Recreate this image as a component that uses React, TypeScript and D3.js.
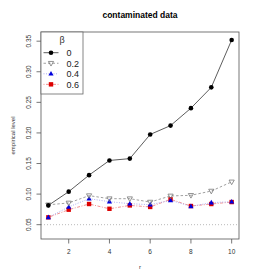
import React, { useEffect, useRef } from 'react';
import * as d3 from 'd3';

const rValues = [1, 2, 3, 4, 5, 6, 7, 8, 9, 10];
const beta0 = [0.0815, 0.104, 0.131, 0.155, 0.158, 0.1975, 0.212, 0.2405, 0.2745, 0.352];
const beta02 = [0.0825, 0.0855, 0.0975, 0.0925, 0.0925, 0.087, 0.097, 0.098, 0.105, 0.12];
const beta04 = [0.062, 0.079, 0.0925, 0.0876, 0.0843, 0.0827, 0.0898, 0.080, 0.086, 0.0876];
const beta06 = [0.062, 0.0745, 0.0838, 0.076, 0.0815, 0.079, 0.0915, 0.0805, 0.0838, 0.087];
const legendLabels = ['0', '0.2', '0.4', '0.6'];
const yTicks = [0.05, 0.10, 0.15, 0.20, 0.25, 0.30, 0.35];
const xTicks = [2, 4, 6, 8, 10];
const nominalLevel = 0.05;

const App: React.FC = () => {
  const ref = useRef<SVGSVGElement | null>(null);

  useEffect(() => {
    if (!ref.current) return;
    const svg = d3.select(ref.current);
    svg.selectAll('*').remove();

    const font = '"Liberation Sans", Arial, sans-serif';
    const left = 41, right = 239, top = 32, bottom = 239;

    const x = d3.scaleLinear().domain([0.64, 10.36]).range([left, right]);
    const y = d3.scaleLinear().domain([0.0266, 0.365]).range([bottom, top]);

    // title
    svg.append('text')
      .attr('x', 140).attr('y', 18)
      .attr('text-anchor', 'middle')
      .style('font-family', font).style('font-size', '8.5px').style('font-weight', 'bold')
      .text('contaminated data');

    // reference line
    svg.append('line')
      .attr('x1', left).attr('x2', right)
      .attr('y1', y(nominalLevel)).attr('y2', y(nominalLevel))
      .attr('stroke', '#aaa').attr('stroke-width', 0.8).attr('stroke-dasharray', '1,2');

    const series = [
      { vals: beta0, color: '#000', lineColor: '#333', dash: 'none', shape: 'circle' },
      { vals: beta02, color: '#777', lineColor: '#888', dash: '2.5,2', shape: 'tridown' },
      { vals: beta04, color: '#0000dd', lineColor: '#9999ee', dash: '1,1.5', shape: 'triup' },
      { vals: beta06, color: '#dd0000', lineColor: '#ee7777', dash: '1,1.5,3,1.5', shape: 'square' },
    ];

    const drawSymbol = (g: d3.Selection<SVGGElement, unknown, null, undefined>, shape: string, cx: number, cy: number, color: string) => {
      if (shape === 'circle') {
        g.append('circle').attr('cx', cx).attr('cy', cy).attr('r', 2.3).attr('fill', color);
      } else if (shape === 'square') {
        g.append('rect').attr('x', cx - 2.2).attr('y', cy - 2.2).attr('width', 4.4).attr('height', 4.4).attr('fill', color);
      } else if (shape === 'triup') {
        g.append('path').attr('d', `M${cx},${cy - 2.8}L${cx + 2.6},${cy + 1.8}L${cx - 2.6},${cy + 1.8}Z`).attr('fill', color);
      } else {
        g.append('path').attr('d', `M${cx},${cy + 2.8}L${cx + 2.6},${cy - 1.8}L${cx - 2.6},${cy - 1.8}Z`)
          .attr('fill', 'none').attr('stroke', color).attr('stroke-width', 0.8);
      }
    };

    const line = d3.line<number>().x((_, i) => x(rValues[i])).y((d) => y(d));
    const plot = svg.append('g');
    [...series].reverse().forEach((s) => {
      plot.append('path').attr('d', line(s.vals) || '')
        .attr('fill', 'none').attr('stroke', s.lineColor).attr('stroke-width', 0.8)
        .attr('stroke-dasharray', s.dash);
    });
    [...series].reverse().forEach((s) => {
      s.vals.forEach((v, i) => drawSymbol(plot, s.shape, x(rValues[i]), y(v), s.color));
    });

    // box
    svg.append('rect').attr('x', left).attr('y', top).attr('width', right - left).attr('height', bottom - top)
      .attr('fill', 'none').attr('stroke', '#555').attr('stroke-width', 0.8);

    // y axis
    yTicks.forEach((t) => {
      svg.append('line').attr('x1', left - 4.5).attr('x2', left).attr('y1', y(t)).attr('y2', y(t))
        .attr('stroke', '#555').attr('stroke-width', 0.8);
      svg.append('text')
        .attr('transform', `translate(${31},${y(t)}) rotate(-90)`)
        .attr('text-anchor', 'middle')
        .style('font-family', font).style('font-size', '6.5px').style('fill', '#333')
        .text(t.toFixed(2));
    });
    // x axis
    xTicks.forEach((t) => {
      svg.append('line').attr('x1', x(t)).attr('x2', x(t)).attr('y1', bottom).attr('y2', bottom + 4.5)
        .attr('stroke', '#555').attr('stroke-width', 0.8);
      svg.append('text').attr('x', x(t)).attr('y', 253.5)
        .attr('text-anchor', 'middle')
        .style('font-family', font).style('font-size', '6.5px').style('fill', '#333')
        .text(String(t));
    });

    svg.append('text').attr('x', 140).attr('y', 269)
      .attr('text-anchor', 'middle')
      .style('font-family', font).style('font-size', '6px').style('fill', '#333')
      .text('r');
    svg.append('text')
      .attr('transform', `translate(15,${(top + bottom) / 2}) rotate(-90)`)
      .attr('text-anchor', 'middle')
      .style('font-family', font).style('font-size', '6px').style('fill', '#333')
      .text('empirical level');

    // legend
    const lg = svg.append('g');
    lg.append('rect').attr('x', left).attr('y', top).attr('width', 42).attr('height', 62)
      .attr('fill', 'white').attr('stroke', '#666').attr('stroke-width', 0.8);
    lg.append('text').attr('x', 62).attr('y', 43)
      .attr('text-anchor', 'middle')
      .style('font-family', font).style('font-size', '9px').style('fill', '#333')
      .text('β');
    legendLabels.forEach((lab, i) => {
      const s = series[i];
      const cy = 52.7 + i * 10.55;
      lg.append('line').attr('x1', 43.5).attr('x2', 58.5).attr('y1', cy).attr('y2', cy)
        .attr('stroke', s.lineColor).attr('stroke-width', 0.8).attr('stroke-dasharray', s.dash);
      drawSymbol(lg as any, s.shape, 51, cy, s.color);
      lg.append('text').attr('x', 66.5).attr('y', cy + 3.3)
        .style('font-family', font).style('font-size', '9px').style('fill', '#222')
        .text(lab);
    });
  }, []);

  return (
    <div style={{ position: 'fixed', left: 0, top: 0 }}>
      <svg ref={ref} width={280} height={280} style={{ display: 'block', background: 'white' }} />
    </div>
  );
};

export default App;
